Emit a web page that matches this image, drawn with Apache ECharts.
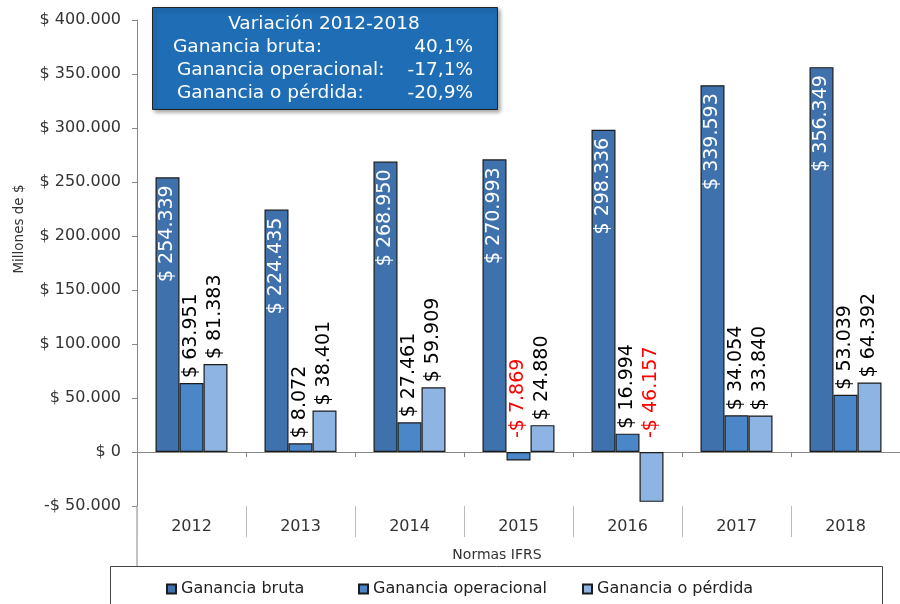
<!DOCTYPE html>
<html>
<head>
<meta charset="utf-8">
<script src="https://cdn.jsdelivr.net/npm/echarts@6/dist/echarts.min.js"></script>
<style>
  html, body { margin: 0; padding: 0; background: #fff; }
  #chart { width: 900px; height: 604px; }
</style>
</head>
<body>
<div id="chart"></div>
<script>
const years = ['2012', '2013', '2014', '2015', '2016', '2017', '2018'];
const gananciaBruta = [254339, 224435, 268950, 270993, 298336, 339593, 356349];
const gananciaOperacional = [63951, 8072, 27461, -7869, 16994, 34054, 53039];
const gananciaPerdida = [81383, 38401, 59909, 24880, -46157, 33840, 64392];

const seriesNames = ['Ganancia bruta', 'Ganancia operacional', 'Ganancia o pérdida'];
const variacionTitulo = 'Variación 2012-2018';
const variacionEtiquetas = ['Ganancia bruta:', 'Ganancia operacional:', 'Ganancia o pérdida:'];
const variacionValores = ['40,1%', '-17,1%', '-20,9%'];

const FONT = 'DejaVu Sans';

function fmtMoney(v) {
    const s = String(Math.abs(v)).replace(/\B(?=(\d{3})+(?!\d))/g, '.');
    return (v < 0 ? '-$ ' : '$ ') + s;
}

// negative values get a red label above the zero line
function outsideData(arr) {
    return arr.map((v) => (v < 0 ? { value: v, label: { color: '#FF0000', distance: 14 } } : v));
}

const outsideLabel = {
    show: true,
    position: 'top',
    rotate: 90,
    align: 'left',
    verticalAlign: 'middle',
    distance: 5,
    color: '#000',
    fontSize: 19,
    fontFamily: FONT,
    formatter: (p) => fmtMoney(p.value),
};

const legendCommon = {
    top: 581,
    padding: 0,
    icon: 'rect',
    itemWidth: 9,
    itemHeight: 9,
    selectedMode: false,
    textStyle: { fontSize: 16, color: '#222', fontFamily: FONT },
};

const chart = echarts.init(document.getElementById('chart'));

const option = {
    animation: false,
    textStyle: { fontFamily: FONT },
    grid: { left: 137, right: -9, top: 20, bottom: 98 },
    legend: [
        { ...legendCommon, data: [seriesNames[0]], left: 166 },
        { ...legendCommon, data: [seriesNames[1]], left: 358 },
        { ...legendCommon, data: [seriesNames[2]], left: 582 },
    ],
    xAxis: [
        {
            // labels + separators at the bottom of the plot
            type: 'category',
            data: years,
            position: 'bottom',
            axisLine: { show: false, onZero: false },
            axisTick: { show: true, interval: 0, length: 31, lineStyle: { color: '#bbb' } },
            axisLabel: { margin: 13, fontSize: 16, color: '#333', fontFamily: FONT },
        },
        {
            // the zero line
            type: 'category',
            data: years,
            position: 'bottom',
            axisLine: { show: true, onZero: true, lineStyle: { color: '#888' } },
            axisTick: { show: true, interval: 0, length: 5, lineStyle: { color: '#888' } },
            axisLabel: { show: false },
        },
    ],
    yAxis: {
        type: 'value',
        min: -50000,
        max: 400000,
        interval: 50000,
        axisLine: { show: true, lineStyle: { color: '#888' } },
        axisTick: { show: true, length: 5, lineStyle: { color: '#888' } },
        splitLine: { show: false },
        axisLabel: {
            margin: 16,
            fontSize: 16,
            color: '#333',
            fontFamily: FONT,
            formatter: (v) => fmtMoney(v),
        },
    },
    series: [
        {
            name: seriesNames[0],
            type: 'bar',
            data: gananciaBruta,
            barWidth: 24,
            barGap: '0%',
            itemStyle: { color: '#3F72AD', borderColor: '#1b1b1b', borderWidth: 1.2 },
            label: {
                show: true,
                position: 'insideTop',
                rotate: 90,
                align: 'right',
                verticalAlign: 'middle',
                distance: 8,
                color: '#fff',
                fontSize: 19,
                fontFamily: FONT,
                formatter: (p) => fmtMoney(p.value),
            },
        },
        {
            name: seriesNames[1],
            type: 'bar',
            data: outsideData(gananciaOperacional),
            barWidth: 24,
            barGap: '0%',
            itemStyle: { color: '#4A86C8', borderColor: '#1b1b1b', borderWidth: 1.2 },
            label: outsideLabel,
        },
        {
            name: seriesNames[2],
            type: 'bar',
            data: outsideData(gananciaPerdida),
            barWidth: 24,
            barGap: '0%',
            itemStyle: { color: '#8DB4E2', borderColor: '#1b1b1b', borderWidth: 1.2 },
            label: outsideLabel,
        },
    ],
    graphic: [
        // y axis continues down to the legend box
        { type: 'line', shape: { x1: 137, y1: 506, x2: 137, y2: 566 }, style: { stroke: '#888', lineWidth: 1 } },
        {
            type: 'text',
            x: 19,
            y: 229,
            rotation: Math.PI / 2,
            style: { text: 'Millones de $', font: '13.5px ' + FONT, fill: '#333', align: 'center', verticalAlign: 'middle' },
        },
        {
            type: 'text',
            x: 497,
            y: 555,
            style: { text: 'Normas IFRS', font: '14px ' + FONT, fill: '#333', align: 'center', verticalAlign: 'middle' },
        },
        {
            type: 'rect',
            z: -1,
            shape: { x: 110.5, y: 566.5, width: 772, height: 60 },
            style: { fill: '#fff', stroke: '#444', lineWidth: 1 },
        },
        {
            type: 'group',
            children: [
                {
                    type: 'rect',
                    shape: { x: 152.5, y: 7.5, width: 345, height: 102 },
                    style: {
                        fill: '#1F6DB4',
                        stroke: '#222',
                        lineWidth: 1,
                        shadowBlur: 4,
                        shadowOffsetX: 2,
                        shadowOffsetY: 2,
                        shadowColor: 'rgba(0,0,0,0.35)',
                    },
                },
                {
                    type: 'text',
                    x: 324,
                    y: 24,
                    style: { text: variacionTitulo, font: '18.5px ' + FONT, fill: '#fff', align: 'center', verticalAlign: 'middle' },
                },
                ...variacionEtiquetas.map((t, i) => ({
                    type: 'text',
                    x: i === 0 ? 173 : 177,
                    y: 47 + i * 23,
                    style: { text: t, font: '18.5px ' + FONT, fill: '#fff', align: 'left', verticalAlign: 'middle' },
                })),
                ...variacionValores.map((t, i) => ({
                    type: 'text',
                    x: 473,
                    y: 47 + i * 23,
                    style: { text: t, font: '18.5px ' + FONT, fill: '#fff', align: 'right', verticalAlign: 'middle' },
                })),
            ],
        },
    ],
};

chart.setOption(option);
</script>
</body>
</html>
